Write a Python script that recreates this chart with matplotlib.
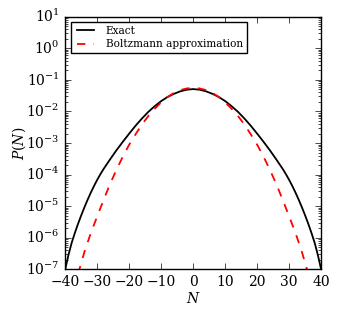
import numpy as np
import matplotlib
matplotlib.use('Agg')
import matplotlib.pyplot as plt

# values (log10 of P(N)), curves are symmetric in N
n_half_exact = [0, 2, 4, 6, 8, 10, 12, 14, 16, 18, 20, 22, 24, 26, 28,
                29, 30, 31, 32, 33, 34, 35, 36, 37, 38, 39, 40]
logp_half_exact = [-1.29, -1.31, -1.36, -1.44, -1.54, -1.67, -1.83, -2.01, -2.22, -2.45, -2.70,
                   -2.96, -3.23, -3.52, -3.82, -3.985, -4.165, -4.36, -4.57, -4.795, -5.035,
                   -5.29, -5.56, -5.85, -6.165, -6.55, -7.0]

n_half_boltz = [0, 2, 4, 6, 8, 10, 12, 14, 16, 18, 20, 22, 24, 26, 28, 30, 32, 34, 35, 36]
logp_half_boltz = [-1.25, -1.27, -1.32, -1.41, -1.54, -1.71, -1.91, -2.14, -2.41, -2.72, -3.05,
                   -3.43, -3.85, -4.30, -4.80, -5.32, -5.85, -6.45, -6.80, -7.15]


def mirror(n, v):
    n = np.asarray(n, dtype=float)
    v = np.asarray(v, dtype=float)
    return np.concatenate([-n[:0:-1], n]), np.concatenate([v[:0:-1], v])


n_exact, logp_exact = mirror(n_half_exact, logp_half_exact)
n_boltz, logp_boltz = mirror(n_half_boltz, logp_half_boltz)

plt.style.use('classic')
plt.rcParams['font.family'] = ['DejaVu Serif']
plt.rcParams['mathtext.fontset'] = 'dejavuserif'
plt.rcParams['figure.facecolor'] = 'white'
plt.rcParams['savefig.facecolor'] = 'white'

fig = plt.figure(figsize=(3.38, 3.11), dpi=100)
ax = fig.add_axes([0.193, 0.134, 0.757, 0.812])

ax.plot(n_exact, 10.0 ** logp_exact, color='black', lw=1.3, label='Exact')
ax.plot(n_boltz, 10.0 ** logp_boltz, color='red', lw=1.3, ls='--',
        label='Boltzmann approximation')

ax.set_yscale('log')
ax.set_xlim(-40, 40)
ax.set_ylim(1e-7, 1e1)
ax.set_xticks(np.arange(-40, 41, 10))
ax.tick_params(labelsize=10)
ax.set_xlabel('$N$', fontsize=10)
ax.set_ylabel('$P(N)$', fontsize=10)
ax.xaxis.set_label_coords(0.5, -0.085)
ax.yaxis.set_label_coords(-0.146, 0.5)

leg = ax.legend(loc='upper left', fontsize=7.6, fancybox=False, handlelength=2.2,
                borderpad=0.35, labelspacing=0.35)
leg.get_frame().set_linewidth(1.0)

fig.savefig('out.png', dpi=100)
